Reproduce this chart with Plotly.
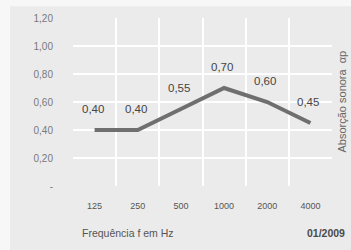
import plotly.graph_objects as go

categories = ["125", "250", "500", "1000", "2000", "4000"]
values = [0.40, 0.40, 0.55, 0.70, 0.60, 0.45]
y_ticks = [0, 0.2, 0.4, 0.6, 0.8, 1.0, 1.2]
y_ticklabels = ["-", "0,20", "0,40", "0,60", "0,80", "1,00", "1,20"]
x_title = "Frequência f em Hz"
y_title = "Absorção sonora  αp"
date_label = "01/2009"

W, H = 351, 250
ml, mr, mt, mb = 73, 19, 15, 64
pw, ph = W - ml - mr, H - mt - mb

def px_x(p):
    return (p - ml) / pw

def px_y(p):
    return (H - mb - p) / ph

fig = go.Figure()
fig.add_trace(go.Scatter(
    x=categories, y=values, mode="lines",
    line=dict(color="#6f6f6f", width=4),
    hoverinfo="skip", showlegend=False,
))

annotations = []
for i, v in enumerate(values):
    annotations.append(dict(
        x=i, y=v, xref="x", yref="y",
        text=f"{v:.2f}".replace(".", ","),
        showarrow=False, yshift=21, xshift=-2,
        font=dict(family="Liberation Sans, Arial", size=11.5, color="#444444"),
    ))

annotations.append(dict(
    x=px_x(80), y=px_y(234), xref="paper", yref="paper",
    xanchor="left", yanchor="middle", text=x_title, showarrow=False,
    font=dict(family="Liberation Sans, Arial", size=10.5, color="#555555"),
))
annotations.append(dict(
    x=px_x(347), y=px_y(234), xref="paper", yref="paper",
    xanchor="right", yanchor="middle", text=f"<b>{date_label}</b>", showarrow=False,
    font=dict(family="Liberation Sans, Arial", size=10.5, color="#4a4a4a"),
))
annotations.append(dict(
    x=px_x(342), y=px_y(100), xref="paper", yref="paper",
    xanchor="center", yanchor="middle", text=y_title, showarrow=False,
    textangle=-90,
    font=dict(family="Liberation Sans, Arial", size=11, color="#666666"),
))

shapes = [dict(
    type="rect", xref="paper", yref="paper", layer="below",
    x0=px_x(10), x1=px_x(W + 2), y0=px_y(H + 2), y1=px_y(3),
    fillcolor="#ebebeb", line=dict(width=0),
)]

fig.update_layout(
    width=W, height=H,
    margin=dict(l=ml, r=mr, t=mt, b=mb, pad=0),
    paper_bgcolor="#f7f7f7",
    plot_bgcolor="#e1e1e1",
    font=dict(family="Liberation Sans, Arial", size=9, color="#555555"),
    annotations=annotations,
    shapes=shapes,
    xaxis=dict(
        type="category", range=[-0.5, 5.5], tickson="boundaries",
        showgrid=True, gridcolor="#ffffff", gridwidth=1.5,
        ticks="", showline=False, zeroline=False,
        tickfont=dict(size=9, color="#555555"),
        ticklabelstandoff=13,
    ),
    yaxis=dict(
        range=[0, 1.2], tickvals=y_ticks, ticktext=y_ticklabels,
        showgrid=True, gridcolor="#ffffff", gridwidth=1.5,
        ticks="", showline=False, zeroline=False,
        tickfont=dict(size=10, color="#7a7a7a"),
        ticklabelstandoff=19,
    ),
)

fig.write_html(
    "out.html",
    config={"displayModeBar": False},
    post_script="document.body.style.margin='0';document.body.style.overflow='hidden';",
)
